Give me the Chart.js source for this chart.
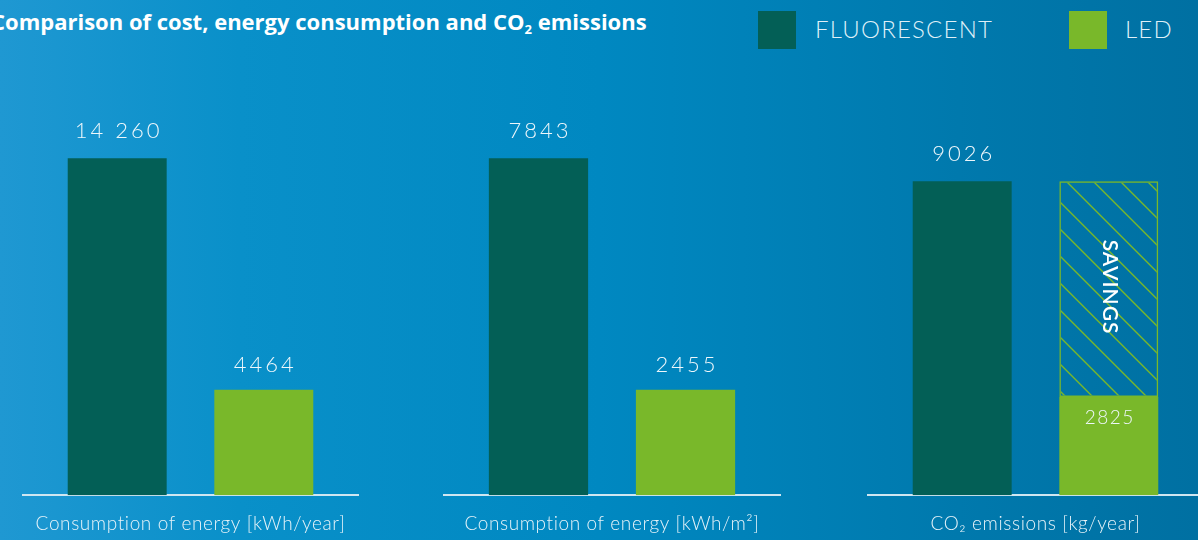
<!DOCTYPE html>
<html>
<head>
<meta charset="utf-8">
<script src="https://cdn.jsdelivr.net/npm/chart.js@4"></script>
<style>
  html, body { margin: 0; padding: 0; }
  body {
    width: 1198px; height: 540px; overflow: hidden; position: relative;
    background: linear-gradient(90deg, #1f98d2 0%, #0990c9 20%, #0088c1 50%, #0079ad 80%, #0070a2 100%);
    font-family: Lato, "Open Sans", sans-serif;
  }
  #title {
    position: absolute; left: -9px; top: 6px;
    color: #fff; font: 700 22px "Open Sans", sans-serif; letter-spacing: 0px;
    white-space: nowrap;
  }
  #title sub { font-size: 13px; vertical-align: -4px; line-height: 0; }
  .leg { position: absolute; top: 11px; width: 38px; height: 38px; }
  .legtxt {
    position: absolute; top: 14px; color: #dff0f8;
    font: 300 24px Lato, sans-serif; letter-spacing: 1.2px; white-space: nowrap;
  }
  canvas { position: absolute; }
</style>
</head>
<body>
<div id="title">Comparison of cost, energy consumption and CO<sub>2</sub> emissions</div>
<div class="leg" style="left:758px;background:#035f56"></div>
<div class="legtxt" style="left:815px">FLUORESCENT</div>
<div class="leg" style="left:1069px;background:#79b82a"></div>
<div class="legtxt" style="left:1125px">LED</div>

<div style="position:absolute;left:22px;top:117px;width:337px;height:440px"><canvas id="c1"></canvas></div>
<div style="position:absolute;left:443px;top:117px;width:338px;height:440px"><canvas id="c2"></canvas></div>
<div style="position:absolute;left:867px;top:117px;width:337px;height:440px"><canvas id="c3"></canvas></div>

<script>
// data
const categories = ['Consumption of energy [kWh/year]', 'Consumption of energy [kWh/m²]', 'CO₂ emissions [kg/year]'];
const fluorescent = [14260, 7843, 9026];
const led = [4464, 2455, 2825];
const fluorescentLabels = ['14 260', '7843', '9026'];
const ledLabels = ['4464', '2455', '2825'];
const showSavings = [false, false, true];
const yMax = [16000, 8800, 10870];

const dark = '#035f56';
const green = '#79b82a';

// diagonal hatch for the savings part
function hatch() {
    const s = 27;
    const c = document.createElement('canvas');
    c.width = s; c.height = s;
    const g = c.getContext('2d');
    g.strokeStyle = green;
    g.lineWidth = 1.4;
    g.beginPath();
    g.moveTo(-2, -2); g.lineTo(s + 2, s + 2);
    g.moveTo(-2, s - 2); g.lineTo(2, s + 2);
    g.moveTo(s - 2, -2); g.lineTo(s + 2, 2);
    g.stroke();
    return g.createPattern(c, 'repeat');
}

const labelsPlugin = {
    id: 'valueLabels',
    beforeDraw(chart) {
        chart.ctx.letterSpacing = '0.6px';
    },
    afterDatasetsDraw(chart) {
        const ctx = chart.ctx;
        const i = chart.options.panel;
        ctx.save();
        ctx.fillStyle = '#eef7fb';
        ctx.textAlign = 'center';
        ctx.textBaseline = 'middle';
        ctx.font = '300 22px Lato, sans-serif';
        ctx.letterSpacing = '3px';

        const f = chart.getDatasetMeta(0).data[0];
        ctx.fillText(fluorescentLabels[i], f.x + 1.5, f.y - 27);

        const l = chart.getDatasetMeta(1).data[0];
        if (showSavings[i]) {
            ctx.font = '300 19px Lato, sans-serif';
            ctx.letterSpacing = '1.5px';
            ctx.fillText(ledLabels[i], l.x + 1, l.y + 21);

            const s = chart.getDatasetMeta(2).data[0];
            ctx.translate(s.x + 1, (s.y + s.base) / 2 - 2);
            ctx.rotate(Math.PI / 2);
            ctx.fillStyle = '#ffffff';
            ctx.font = '600 21px Lato, sans-serif';
            ctx.letterSpacing = '1px';
            ctx.fillText('SAVINGS', 0, 0);
        } else {
            ctx.fillText(ledLabels[i], l.x + 1.5, l.y - 25);
        }
        ctx.restore();
    }
};

function makeChart(i) {
    const datasets = [
        { label: 'FLUORESCENT', data: [fluorescent[i]], backgroundColor: dark, stack: 'f' },
        { label: 'LED', data: [led[i]], backgroundColor: green, stack: 'l' }
    ];
    if (showSavings[i]) {
        datasets.push({
            label: 'SAVINGS',
            data: [fluorescent[i] - led[i]],
            backgroundColor: hatch(),
            borderColor: green,
            borderWidth: 1.5,
            borderSkipped: false,
            stack: 'l'
        });
    }
    new Chart(document.getElementById('c' + (i + 1)), {
        type: 'bar',
        data: { labels: [categories[i]], datasets: datasets },
        options: {
            panel: i,
            responsive: true,
            maintainAspectRatio: false,
            animation: false,
            events: [],
            barPercentage: 0.675,
            categoryPercentage: 0.87,
            layout: { padding: { top: 0, bottom: 5, left: 0, right: 0 } },
            plugins: {
                legend: { display: false },
                tooltip: { enabled: false }
            },
            scales: {
                x: {
                    stacked: true,
                    grid: { display: false, drawTicks: false },
                    border: { display: true, color: '#cfe6f1', width: 2 },
                    ticks: {
                        color: '#e6f3f9',
                        padding: 17,
                        font: { family: 'Lato, sans-serif', size: 19, weight: '300' }
                    }
                },
                y: {
                    stacked: true,
                    display: false,
                    min: 0,
                    max: yMax[i]
                }
            }
        },
        plugins: [labelsPlugin]
    });
}

for (let i = 0; i < 3; i++) makeChart(i);
</script>
</body>
</html>
